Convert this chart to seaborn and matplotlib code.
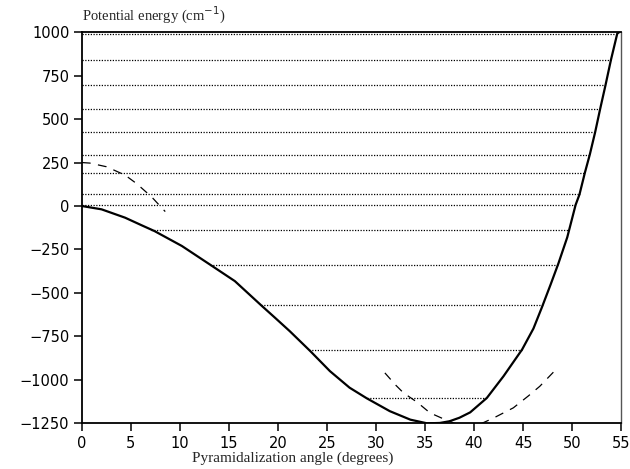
import numpy as np
import pandas as pd
import matplotlib
matplotlib.use('Agg')
import matplotlib.pyplot as plt
import seaborn as sns

# Potential curve (solid)
angle = [0, 2.0, 4.4, 6.1, 7.4, 10.2, 13.2, 15.6, 18.3, 19.7, 21.2, 23.3, 25.3,
         27.3, 29.05, 31.4, 33.5, 35.2, 36.5, 37.5, 38.5, 39.6, 41.3, 43.0, 44.9,
         46.05, 46.9, 47.8, 48.6, 49.5, 50.35, 50.75, 51.3, 51.8, 52.35, 52.85,
         53.4, 53.95, 54.6, 54.8]
energy = [0, -19, -67, -111, -144, -230, -342, -432, -572, -643, -720, -835, -950,
          -1045, -1106, -1180, -1229, -1250, -1248, -1238, -1218, -1187, -1104,
          -979, -825, -705, -585, -452, -330, -180, 6, 67, 192, 296, 426, 557,
          695, 839, 992, 1000]

# Dashed curves
dash1_angle = [0, 0.8, 2.5, 4.4, 5.6, 7.1, 8.5]
dash1_energy = [250, 247, 226, 178, 128, 53, -32]
dash2_angle = [30.9, 32.0, 32.8, 34.2, 35.5, 36.9, 38.0, 39.3, 40.6, 42.0, 44.0,
               45.5, 46.7, 48.1]
dash2_energy = [-960, -1030, -1075, -1129, -1190, -1225, -1250, -1262, -1255,
                -1219, -1161, -1094, -1037, -955]

# Vibrational levels (dotted lines)
levels = [992, 839, 695, 557, 426, 296, 192, 67, 6, -136, -338, -571, -828, -1106]

xticks = np.arange(0, 56, 5)
yticks = np.arange(-1250, 1001, 250)

sns.set_style('ticks')
plt.rcParams['font.family'] = ['DejaVu Sans']

fig = plt.figure(figsize=(6.3, 4.69), dpi=100)
ax = fig.add_axes([0.130, 0.0974, 0.856, 0.834])

# level extents from the two branches of the curve
imin = int(np.argmin(energy))
left_x, left_e = np.array(angle[:imin + 1]), np.array(energy[:imin + 1])
right_x, right_e = np.array(angle[imin:]), np.array(energy[imin:])
xmin = np.interp(levels, left_e[::-1], left_x[::-1])
xmax = np.interp(levels, right_e, right_x)
ax.hlines(levels, xmin, xmax, colors='black', linestyles=(0, (1, 1.2)), linewidth=0.9)

df = pd.DataFrame({'angle': angle, 'energy': energy})
sns.lineplot(data=df, x='angle', y='energy', sort=False, estimator=None,
             color='black', linewidth=1.6, ax=ax)
d1 = pd.DataFrame({'angle': dash1_angle, 'energy': dash1_energy})
sns.lineplot(data=d1, x='angle', y='energy', sort=False, estimator=None,
             color='black', linewidth=0.9, ax=ax, linestyle=(0, (7, 6)))
d2 = pd.DataFrame({'angle': dash2_angle, 'energy': dash2_energy})
sns.lineplot(data=d2, x='angle', y='energy', sort=False, estimator=None,
             color='black', linewidth=0.9, ax=ax, linestyle=(0, (7, 6)))

ax.set_xlim(0, 55)
ax.set_ylim(-1250, 1000)
ax.set_xticks(xticks)
ax.set_yticks(yticks)
ax.tick_params(axis='both', direction='out', length=6, width=1.1, labelsize=10.5,
               colors='black', pad=3)

for side in ['left', 'bottom', 'top']:
    ax.spines[side].set_visible(True)
    ax.spines[side].set_linewidth(1.3)
    ax.spines[side].set_color('black')
ax.spines['right'].set_visible(True)
ax.spines['right'].set_linewidth(1.0)
ax.spines['right'].set_color('#555555')

ax.set_xlabel('Pyramidalization angle (degrees)', family='Liberation Serif', fontsize=11)
ax.xaxis.set_label_coords(0.39, -0.072)
ax.set_ylabel('')
ax.text(0.0, 1.015, 'Potential energy (cm$^{-1}$)', transform=ax.transAxes,
        family='Liberation Serif', fontsize=10.5, ha='left', va='bottom')

fig.savefig('out.png', dpi=100, facecolor='white')
